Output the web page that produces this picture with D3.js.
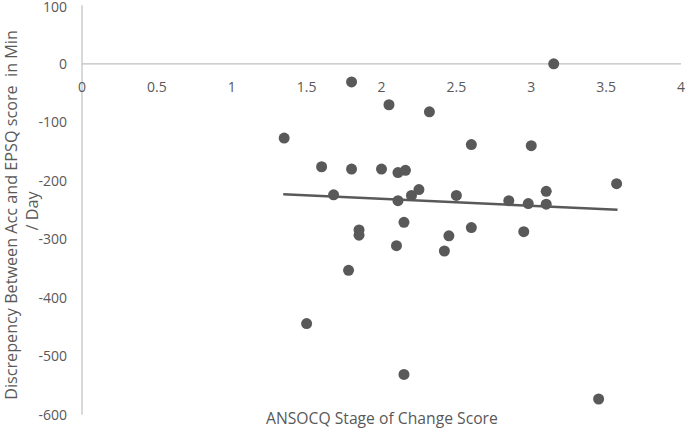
<!DOCTYPE html>
<html><head><meta charset="utf-8">
<script src="https://cdn.jsdelivr.net/npm/d3@7"></script>
<style>body{margin:0;background:#fff}</style>
</head><body>
<svg id="c" width="685" height="430"></svg>
<script>
const xValues = [1.80,2.05,2.32,1.35,3.15,2.60,3.00,1.60,1.80,2.00,2.11,2.16,1.68,2.11,2.20,2.25,2.50,2.15,1.85,1.85,2.10,2.45,2.42,1.78,2.85,2.98,3.10,3.10,3.57,2.60,2.95,1.50,2.15,3.45];
const yValues = [-31,-70,-82,-127,0,-138,-140,-176,-180,-180,-186,-182,-224,-234,-225,-215,-225,-271,-284,-293,-311,-294,-320,-353,-234,-239,-218,-240,-205,-280,-287,-444,-531,-573];
const trendX = [1.344, 3.576];
const trendY = [-223, -249.6];
const xTicks = [0,0.5,1,1.5,2,2.5,3,3.5,4];
const yTicks = [100,0,-100,-200,-300,-400,-500,-600];
const xTitle = "ANSOCQ Stage of Change Score";
const yTitle1 = "Discrepency Between Acc and EPSQ score  in Min";
const yTitle2 = "/ Day";

const svg = d3.select("#c");
const font = "'Open Sans', sans-serif";
const textCol = "#595959";
const x = d3.scaleLinear().domain([0,4]).range([82,681]);
const y = d3.scaleLinear().domain([-600,100]).range([414.8,5.3]);

svg.append("line").attr("x1",x(0)).attr("x2",x(0)).attr("y1",y(100)).attr("y2",y(-600))
  .attr("stroke","#bfbfbf").attr("stroke-width",1.2);
svg.append("line").attr("x1",x(0)).attr("x2",x(4)).attr("y1",y(0)).attr("y2",y(0))
  .attr("stroke","#bfbfbf").attr("stroke-width",1.2);

svg.append("g").selectAll("text").data(yTicks).join("text")
  .attr("x",67).attr("y",d=>Math.max(y(d),7)).attr("dy","0.35em").attr("text-anchor","end")
  .attr("font-family",font).attr("font-size",14).attr("fill",textCol).text(d=>d);

svg.append("g").selectAll("text").data(xTicks).join("text")
  .attr("x",d=>x(d)).attr("y",y(0)+23).attr("dy","0.35em").attr("text-anchor","middle")
  .attr("font-family",font).attr("font-size",14).attr("fill",textCol).text(d=>d);

svg.append("g").selectAll("circle").data(xValues.map((v,i)=>[v,yValues[i]])).join("circle")
  .attr("cx",d=>x(d[0])).attr("cy",d=>y(d[1])).attr("r",5.5).attr("fill","#595959");

svg.append("path").datum(trendX.map((v,i)=>[v,trendY[i]]))
  .attr("d",d3.line().x(d=>x(d[0])).y(d=>y(d[1])))
  .attr("stroke","#595959").attr("stroke-width",2.5).attr("fill","none");

function fit(sel, target){
  const w = sel.node().getComputedTextLength();
  const fs = +sel.attr("font-size");
  sel.attr("font-size", (fs*target/w).toFixed(2));
}

const xt = svg.append("text").attr("x",266).attr("y",419).attr("dy","0.35em")
  .attr("font-family",font).attr("font-size",14).attr("fill",textCol).text(xTitle);
fit(xt, 232);

const yt1 = svg.append("text").attr("transform","translate(11,215) rotate(-90)").attr("text-anchor","middle").attr("dy","0.35em")
  .style("white-space","pre")
  .attr("font-family",font).attr("font-size",14).attr("fill",textCol).text(yTitle1);
fit(yt1, 370);
const yt2 = svg.append("text").attr("transform","translate(32,211) rotate(-90)").attr("text-anchor","middle").attr("dy","0.35em")
  .attr("font-family",font).attr("font-size",yt1.attr("font-size")).attr("fill",textCol).text(yTitle2);
</script>
</body></html>
